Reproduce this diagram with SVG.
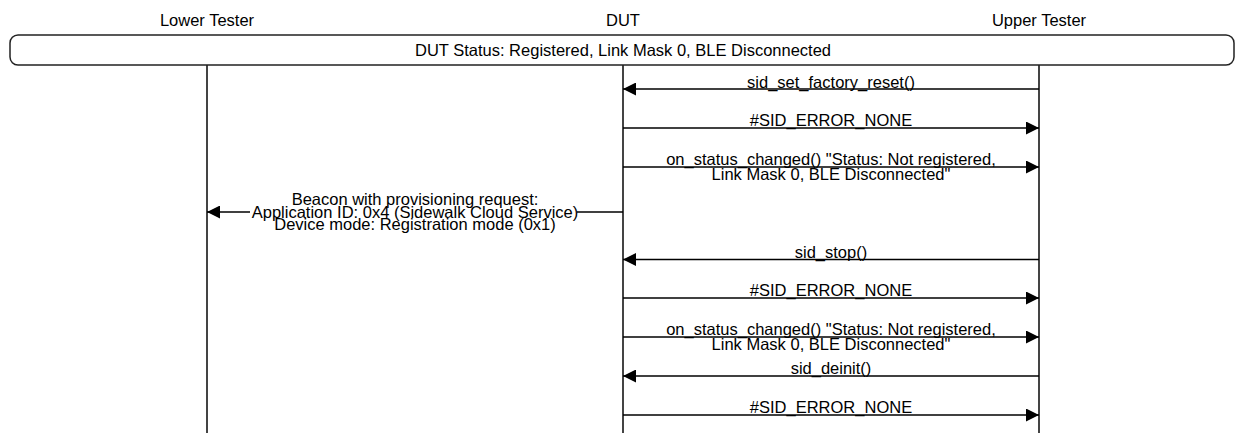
<svg xmlns="http://www.w3.org/2000/svg" width="1236" height="433" viewBox="0 0 1236 433">
<style>
text{font-family:"Liberation Sans",Arial,sans-serif;font-size:16.5px;fill:#000;text-anchor:middle}
.life{stroke:#444;stroke-width:2;fill:none}
.msg{stroke:#000;stroke-width:1.3;fill:none}
.box{fill:#fff;stroke:#222;stroke-width:1.5}
</style>
<defs>
<marker id="ah" viewBox="0 0 13 13" refX="13" refY="6.5" markerWidth="13" markerHeight="13" markerUnits="userSpaceOnUse" orient="auto">
<path d="M0,0 L13,6.5 L0,13 Z" fill="#000"/>
</marker>
</defs>
<rect width="1236" height="433" fill="#fff"/>
<g id="lower-tester">
<text x="207" y="26">Lower Tester</text>
<line class="life" x1="207" y1="65" x2="207" y2="433"/>
</g>
<g id="dut">
<text x="623" y="26">DUT</text>
<line class="life" x1="623" y1="65" x2="623" y2="433"/>
</g>
<g id="upper-tester">
<text x="831" y="26" dx="208">Upper Tester</text>
<line class="life" x1="1039" y1="65" x2="1039" y2="433"/>
</g>
<g id="status-box">
<rect class="box" x="10" y="35" width="1224" height="30" rx="8" ry="8"/>
<text x="623" y="56">DUT Status: Registered, Link Mask 0, BLE Disconnected</text>
</g>
<g id="connectors">
<line class="msg" x1="1039" y1="89" x2="623" y2="89" marker-end="url(#ah)"/>
<text x="831" y="87.5">sid_set_factory_reset()</text>
<line class="msg" x1="623" y1="128" x2="1039" y2="128" marker-end="url(#ah)"/>
<text x="831" y="126">#SID_ERROR_NONE</text>
<line class="msg" x1="623" y1="167" x2="1039" y2="167" marker-end="url(#ah)"/>
<text x="831" y="164.5">on_status_changed() "Status: Not registered,</text>
<text x="831" y="180">Link Mask 0, BLE Disconnected"</text>
<line class="msg" x1="623" y1="212" x2="207" y2="212" marker-end="url(#ah)"/>
<rect x="250" y="205" width="327" height="14" fill="#fff"/>
<text x="415" y="204.5">Beacon with provisioning request:</text>
<text x="415" y="217.5">Application ID: 0x4 (Sidewalk Cloud Service)</text>
<text x="415" y="230">Device mode: Registration mode (0x1)</text>
<line class="msg" x1="1039" y1="259.5" x2="623" y2="259.5" marker-end="url(#ah)"/>
<text x="831" y="257.5">sid_stop()</text>
<line class="msg" x1="623" y1="298" x2="1039" y2="298" marker-end="url(#ah)"/>
<text x="831" y="296">#SID_ERROR_NONE</text>
<line class="msg" x1="623" y1="337" x2="1039" y2="337" marker-end="url(#ah)"/>
<text x="831" y="334.5">on_status_changed() "Status: Not registered,</text>
<text x="831" y="350">Link Mask 0, BLE Disconnected"</text>
<line class="msg" x1="1039" y1="376" x2="623" y2="376" marker-end="url(#ah)"/>
<text x="831" y="373.5">sid_deinit()</text>
<line class="msg" x1="623" y1="415" x2="1039" y2="415" marker-end="url(#ah)"/>
<text x="831" y="413">#SID_ERROR_NONE</text>
</g>
</svg>
